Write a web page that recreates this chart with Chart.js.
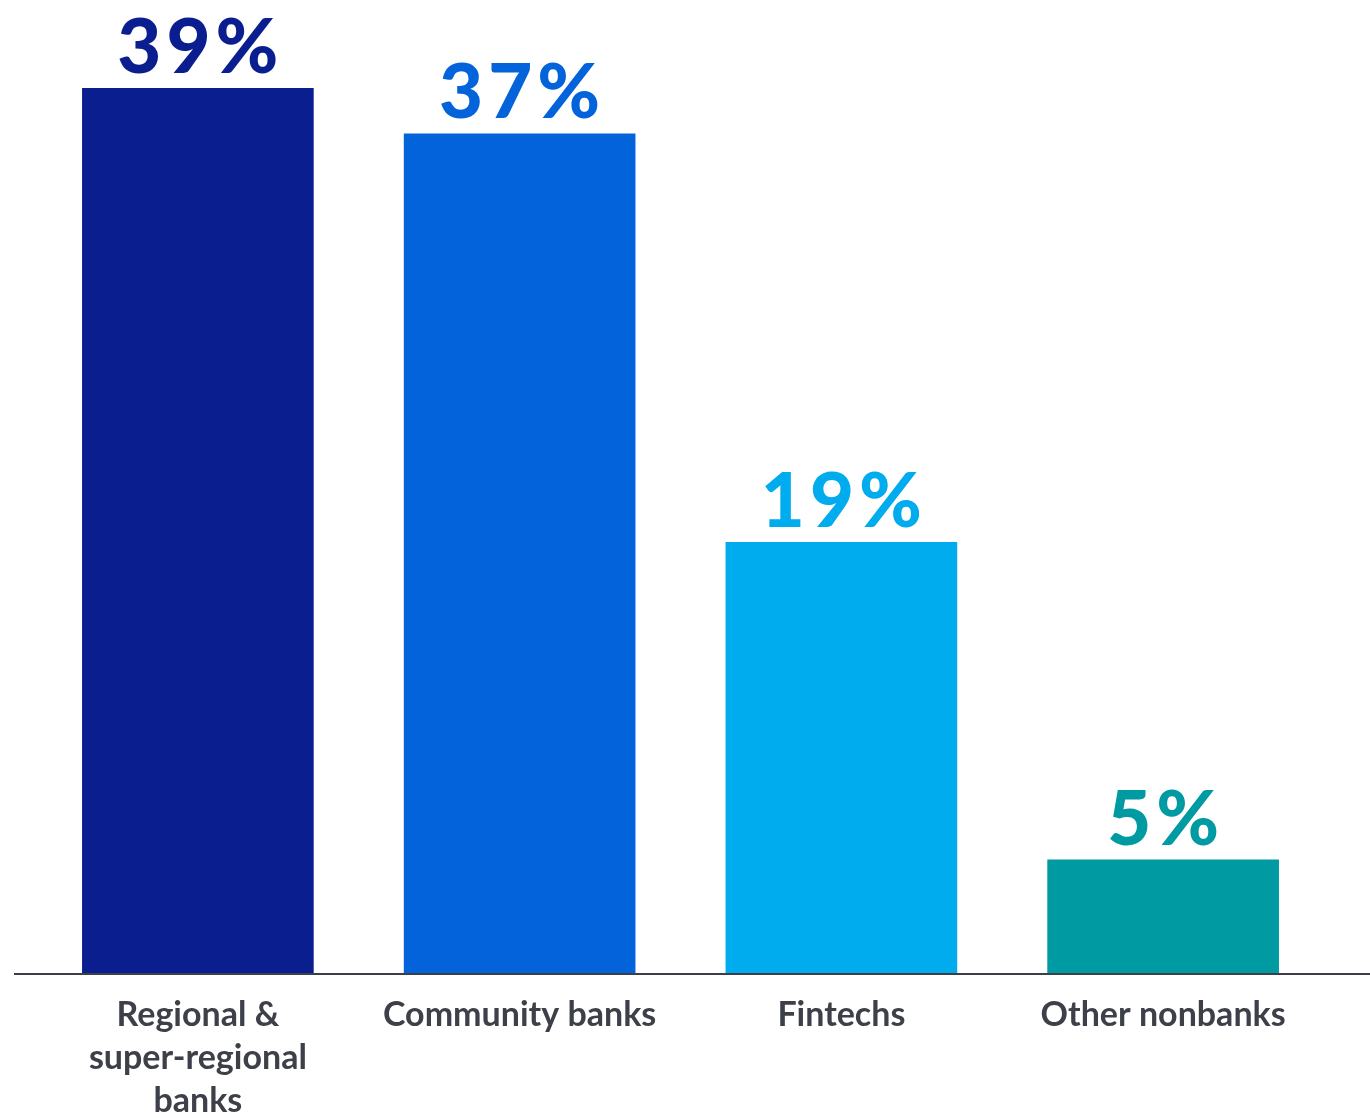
<!DOCTYPE html>
<html>
<head>
<meta charset="utf-8">
<script src="https://cdn.jsdelivr.net/npm/chart.js@4"></script>
<style>
  html, body { margin: 0; padding: 0; background: #fff; }
  #wrap { width: 1370px; height: 1118px; position: relative; }
</style>
</head>
<body>
<div id="wrap"><canvas id="myChart"></canvas></div>
<script>
//Data
let categories = [['Regional &', 'super-regional', 'banks'], 'Community banks', 'Fintechs', 'Other nonbanks'];
let shares = [39, 37, 19, 5];
let barColors = ['#0a1e8f', '#0363db', '#00abee', '#009aa2'];

// percent labels above each bar, same colour as the bar
let valueLabels = {
  id: 'valueLabels',
  afterDatasetsDraw(chart) {
    let ctx = chart.ctx;
    let meta = chart.getDatasetMeta(0);
    let spacing = 5;
    ctx.save();
    ctx.font = '900 76px Lato';
    ctx.letterSpacing = spacing + 'px';
    ctx.textAlign = 'center';
    ctx.textBaseline = 'alphabetic';
    meta.data.forEach((bar, i) => {
      ctx.fillStyle = barColors[i];
      // letterSpacing leaves a gap after the last glyph, nudge to recentre
      ctx.fillText(shares[i] + '%', bar.x + spacing / 2, bar.y - 15);
    });
    ctx.restore();
  }
};

// baseline runs almost the whole width of the canvas
let baseLine = {
  id: 'baseLine',
  afterDatasetsDraw(chart) {
    let ctx = chart.ctx;
    let y = chart.scales.y.getPixelForValue(0);
    ctx.save();
    ctx.strokeStyle = '#3c3f47';
    ctx.lineWidth = 2;
    ctx.beginPath();
    ctx.moveTo(14, y + 1);
    ctx.lineTo(chart.width, y + 1);
    ctx.stroke();
    ctx.restore();
  }
};

var ctx = document.getElementById('myChart').getContext('2d');
var myChart = new Chart(ctx, {
  type: 'bar',
  data: {
    labels: categories,
    datasets: [{
      data: shares,
      backgroundColor: barColors,
      borderWidth: 0,
      barPercentage: 0.72,
      categoryPercentage: 1
    }]
  },
  options: {
    responsive: true,
    maintainAspectRatio: false,
    animation: false,
    layout: { padding: { top: 20, left: 37, right: 46, bottom: 0 } },
    plugins: {
      legend: { display: false },
      tooltip: { enabled: false }
    },
    scales: {
      x: {
        grid: { display: false, drawTicks: false },
        border: { display: false },
        ticks: {
          color: '#3d4049',
          padding: 20,
          maxRotation: 0,
          autoSkip: false,
          font: { family: 'Lato', size: 34, weight: 'bold', lineHeight: 1.27 }
        },
        afterFit(scale) { scale.height = 145; }
      },
      y: {
        display: false,
        min: 0,
        max: 42
      }
    }
  },
  plugins: [valueLabels, baseLine]
});
</script>
</body>
</html>
